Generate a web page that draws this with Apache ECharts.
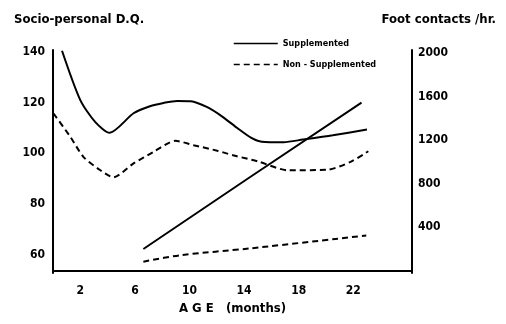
<!DOCTYPE html>
<html>
<head>
<meta charset="utf-8">
<script src="https://cdn.jsdelivr.net/npm/echarts@6/dist/echarts.min.js"></script>
<style>html,body{margin:0;padding:0;background:#fff}#c{width:506px;height:324px}</style>
</head>
<body>
<div id="c"></div>
<script>
// Age in months
var dqSupplemented = [[0.66,140.5],[2.0,121.0],[3.1,112.3],[4.15,108.1],[5.9,115.8],[7.1,118.6],[8.1,119.9],[9.1,120.7],[10.1,120.6],[11.3,118.2],[12.4,114.5],[13.5,110.0],[14.5,106.2],[15.3,104.6],[16.9,104.4],[18.3,105.4],[20.5,107.1],[23.0,109.4]];
var dqNonSupplemented = [[0.04,115.7],[1.27,106.5],[2.24,98.5],[3.47,93.3],[4.42,90.5],[5.9,96.0],[7.35,100.5],[8.96,104.9],[10.3,103.2],[12.1,100.9],[13.2,99.2],[15.0,96.8],[17.2,93.3],[20.1,93.5],[21.8,96.6],[23.1,100.8]];
var footSupplemented = [[6.62,198],[14.2,839],[22.6,1543]];
var footNonSupplemented = [[6.62,81],[9.3,140],[14.5,204],[22.95,322]];
var xTicks = [2,6,10,14,18,22];
var leftTicks = [60,80,100,120,140];
var rightTicks = [400,800,1200,1600,2000];
var legendNames = ['Supplemented','Non - Supplemented'];

var FONT = '"DejaVu Sans Condensed", "DejaVu Sans", sans-serif';
var chart = echarts.init(document.getElementById('c'), null, {renderer:'canvas'});
var lblStyle = {color:'#000', fontFamily:FONT, fontWeight:'bold', fontSize:12};
chart.setOption({
  animation:false,
  backgroundColor:'#fff',
  title:[
    {text:'Socio-personal D.Q.', left:9, top:8, textStyle:{color:'#000', fontFamily:FONT, fontWeight:'bold', fontSize:13}},
    {text:'Foot contacts /hr.', right:5, top:8, textStyle:{color:'#000', fontFamily:FONT, fontWeight:'bold', fontSize:13}}
  ],
  legend:{
    data:legendNames,
    orient:'vertical', left:233, top:39, padding:0, itemGap:12, itemWidth:44, itemHeight:8,
    itemStyle:{opacity:0},
    lineStyle:{width:1.5},
    textStyle:{color:'#000', fontFamily:FONT, fontWeight:'bold', fontSize:9}, selectedMode:false
  },
  grid:{left:53, right:94, top:50, bottom:51},
  xAxis:{
    type:'value', min:0, max:26.3,
    name:'A G E   (months)', nameLocation:'middle', nameGap:25,
    nameTextStyle:{color:'#000', fontFamily:FONT, fontWeight:'bold', fontSize:13},
    axisLine:{lineStyle:{color:'#000', width:2}},
    axisTick:{show:false},
    splitLine:{show:false},
    axisLabel:Object.assign({customValues:xTicks, margin:12}, lblStyle)
  },
  yAxis:[
    {type:'value', min:52.7, max:140.8, position:'left',
     axisLine:{show:true, lineStyle:{color:'#000', width:2}}, axisTick:{show:false}, splitLine:{show:false},
     axisLabel:Object.assign({customValues:leftTicks, margin:8}, lblStyle)},
    {type:'value', min:-23, max:2027, position:'right',
     axisLine:{show:true, lineStyle:{color:'#000', width:2}}, axisTick:{show:false}, splitLine:{show:false},
     axisLabel:Object.assign({customValues:rightTicks, margin:6, formatter:function(v){return String(v);}}, lblStyle)}
  ],
  series:[
    {name:legendNames[0], type:'line', data:dqSupplemented, smooth:0.25, symbol:'none', yAxisIndex:0,
     lineStyle:{color:'#000', width:2}, itemStyle:{color:'#000'}},
    {name:legendNames[1], type:'line', data:dqNonSupplemented, smooth:0.25, symbol:'none', yAxisIndex:0,
     lineStyle:{color:'#000', width:2, type:[6,4]}, itemStyle:{color:'#000'}},
    {name:'foot-s', type:'line', data:footSupplemented, smooth:false, symbol:'none', yAxisIndex:1,
     lineStyle:{color:'#000', width:2}},
    {name:'foot-n', type:'line', data:footNonSupplemented, smooth:0.3, symbol:'none', yAxisIndex:1,
     lineStyle:{color:'#000', width:2, type:[6,4]}}
  ]
});
</script>
</body>
</html>
